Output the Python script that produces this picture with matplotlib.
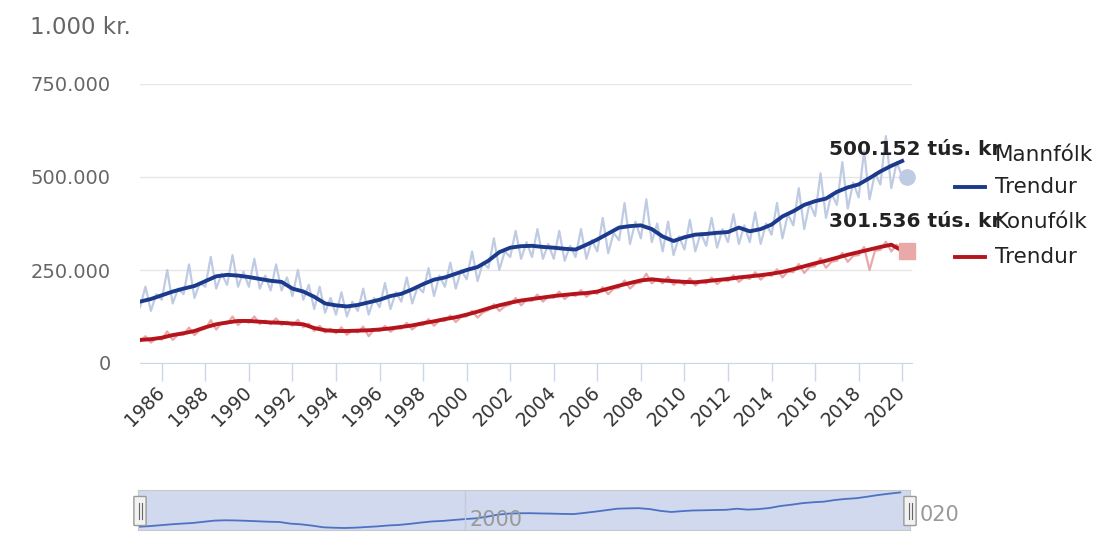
import numpy as np
import matplotlib
matplotlib.use("Agg")
import matplotlib.pyplot as plt
from matplotlib.lines import Line2D
from matplotlib.patches import FancyBboxPatch

# Trend (half-year steps, 1985.0 - 2020.0), thousand kr.
trend_years = np.arange(1985.0, 2020.01, 0.5)
trend_men = [165, 172, 182, 192, 200, 207, 220, 233, 237, 235, 231, 226, 221, 218,
             200, 192, 178, 160, 155, 152, 156, 163, 170, 180, 186, 198, 212, 224,
             230, 240, 250, 258, 275, 298, 310, 314, 315, 312, 310, 307, 305, 318,
             332, 348, 364, 368, 370, 360, 340, 328, 338, 345, 347, 350, 352, 364,
             354, 360, 372, 394, 408, 425, 435, 442, 460, 472, 480, 497, 515, 530, 543]
trend_women = [62, 64, 68, 75, 80, 86, 96, 104, 109, 113, 113, 111, 109, 108,
               106, 104, 94, 88, 86, 86, 87, 88, 90, 93, 97, 101, 107, 112,
               118, 123, 130, 138, 147, 155, 162, 168, 172, 176, 180, 183, 186, 188,
               192, 200, 208, 215, 222, 225, 222, 220, 218, 217, 220, 223, 226, 230,
               233, 236, 240, 245, 252, 260, 268, 275, 283, 291, 298, 305, 312, 318, 302]

# Raw values (quarterly, 1985.0 - 2020.0), thousand kr.
raw_years = np.arange(1985.0, 2020.01, 0.25)
raw_men = [150, 205, 140, 185, 170, 250, 160, 200, 185, 265, 175, 215,
           205, 285, 200, 240, 210, 290, 205, 245, 205, 280, 200, 235,
           195, 265, 195, 230, 180, 250, 170, 210, 145, 205, 135, 175,
           130, 190, 125, 165, 140, 200, 130, 175, 150, 215, 145, 190,
           165, 230, 160, 205, 190, 255, 180, 235, 205, 270, 200, 250,
           225, 300, 220, 270, 255, 335, 250, 300, 285, 355, 280, 325,
           285, 360, 280, 320, 280, 355, 275, 315, 285, 360, 280, 330,
           300, 390, 295, 350, 330, 430, 320, 380, 335, 440, 325, 375,
           300, 380, 290, 340, 305, 385, 300, 350, 315, 390, 310, 360,
           325, 400, 320, 370, 325, 405, 320, 375, 345, 430, 335, 400,
           370, 470, 360, 430, 395, 510, 390, 455, 425, 540, 415, 485,
           445, 570, 440, 510, 480, 610, 470, 540, 500.152]
raw_women = [58, 72, 55, 66, 63, 85, 62, 76, 76, 95, 75, 88,
             92, 115, 90, 108, 105, 125, 102, 116, 108, 125, 105, 114,
             104, 120, 102, 111, 100, 116, 96, 106, 86, 100, 82, 92,
             80, 96, 76, 88, 82, 98, 72, 90, 86, 100, 84, 94,
             92, 108, 90, 102, 102, 118, 100, 114, 113, 128, 110, 124,
             125, 140, 122, 136, 142, 158, 140, 152, 157, 175, 155, 170,
             167, 184, 165, 178, 175, 192, 172, 185, 180, 196, 178, 190,
             186, 204, 185, 200, 202, 222, 200, 214, 216, 240, 214, 226,
             214, 232, 210, 222, 210, 228, 208, 220, 214, 230, 212, 224,
             220, 236, 218, 230, 226, 244, 224, 238, 234, 252, 230, 246,
             244, 266, 242, 258, 260, 282, 256, 272, 275, 296, 272, 288,
             290, 312, 250, 302, 304, 326, 300, 318, 301.536]

year_ticks = list(range(1986, 2021, 2))
y_ticks = [0, 250000, 500000, 750000]

men_dark = "#1b3a8c"
women_dark = "#b5141c"
men_light = "#bfcbe3"
women_light = "#eaa9a9"

plt.rcParams['font.family'] = ['DejaVu Sans']

W, H = 1106, 533
fig = plt.figure(figsize=(11.06, 5.33), dpi=100)
ax = fig.add_axes([140 / W, 1 - 363 / H, 772 / W, 279 / H])

rm = np.array(raw_men) * 1000
rw = np.array(raw_women) * 1000
ax.plot(raw_years, rm, color=men_light, lw=1.6, zorder=2)
ax.plot(raw_years, rw, color=women_light, lw=1.6, zorder=2)
ax.plot(trend_years, np.array(trend_men) * 1000, color=men_dark, lw=2.8, zorder=3)
ax.plot(trend_years, np.array(trend_women) * 1000, color=women_dark, lw=2.8, zorder=3)
ax.plot(raw_years[-1] + 0.2, rm[-1], 'o', color=men_light, ms=11, zorder=4, clip_on=False)
ax.plot(raw_years[-1] + 0.2, rw[-1], 's', color=women_light, ms=11, zorder=4, clip_on=False)

ax.set_xlim(1985.0, 2020.45)
ax.set_ylim(0, 750000)
ax.set_yticks(y_ticks)
ax.set_yticklabels([f"{v:,.0f}".replace(",", ".") for v in y_ticks])
ax.set_xticks(year_ticks)
ax.set_xticklabels([str(y) for y in year_ticks], rotation=45, ha='right', va='center',
                   rotation_mode='anchor')
ax.tick_params(axis='y', length=0, pad=21, labelsize=14, labelcolor='#666666')
ax.tick_params(axis='x', length=13, width=1, color='#ccd6eb', labelsize=13.5,
               labelcolor='#333333', pad=6)
ax.grid(axis='y', color='#e6e6e6', lw=1)
for s in ['top', 'right', 'left']:
    ax.spines[s].set_visible(False)
ax.spines['bottom'].set_color('#ccd6eb')

# value labels at the last point
ax.text(2016.65, 574000, "500.152 tús. kr", fontsize=14.5, fontweight='bold',
        color='#222222', va='center', clip_on=False, zorder=6)
ax.text(2016.65, 380000, "301.536 tús. kr", fontsize=14.5, fontweight='bold',
        color='#222222', va='center', clip_on=False, zorder=6)

fig.text(30 / W, 1 - 27 / H, "1.000 kr.", fontsize=16.5, color='#666666', va='center')

# legend
leg_items = [("Mannfólk", men_light, 155), ("Trendur", men_dark, 187),
             ("Konufólk", women_light, 222), ("Trendur", women_dark, 257)]
for label, col, ypx in leg_items:
    yf = 1 - ypx / H
    if col in (men_dark, women_dark):
        fig.add_artist(Line2D([955 / W, 985 / W], [yf, yf], color=col, lw=2.8))
    fig.text(995 / W, yf, label, fontsize=15.5, color='#222222', va='center', zorder=7)

# navigator
nav = fig.add_axes([138 / W, 3 / H, 772 / W, 40 / H])
nav.set_facecolor('#d0d9ee')
nav.plot(trend_years, np.array(trend_men) * 1000, color='#4c72c4', lw=1.3)
nav.set_xlim(1985.0, 2020.45)
nav.set_ylim(130000, 570000)
nav.set_xticks([])
nav.set_yticks([])
nav.axvline(2000, color='#c5cbd6', lw=1)
nav.text(2000.2, 240000, "2000", fontsize=15, color='#999999', va='center')
for s in nav.spines.values():
    s.set_color('#c9c9c9')
fig.text(920 / W, 1 - 515 / H, "020", fontsize=15, color='#999999', va='center')
for xp in (140, 910):
    fig.add_artist(FancyBboxPatch((xp / W - 5 / W, 1 - 525 / H), 10 / W, 28 / H,
                                  boxstyle="round,pad=0.001", fc='#f2f2f2', ec='#999999', lw=1))
    for dx in (-1.5, 1.5):
        fig.add_artist(Line2D([(xp + dx) / W] * 2, [1 - 519 / H, 1 - 503 / H],
                              color='#666666', lw=0.8))

fig.savefig("out.png", dpi=100)
